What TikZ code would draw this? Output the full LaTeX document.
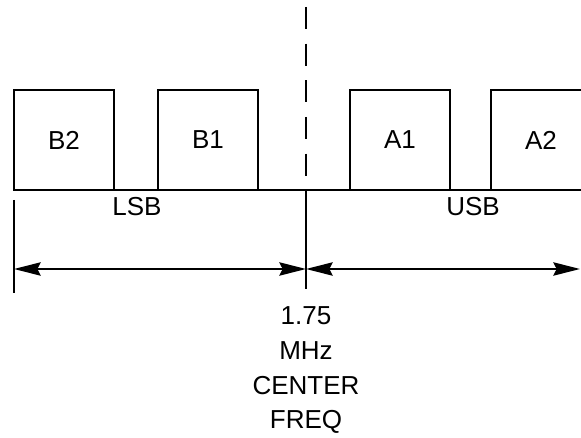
\documentclass[tikz,border=0pt]{standalone}
\usepackage{fontspec}
\setmainfont{Liberation Sans}
\usetikzlibrary{arrows.meta}

\tikzset{every picture/.style={line width=1.5pt}}
\tikzset{
  band/.style={draw, minimum width=75pt, minimum height=75pt, inner sep=0pt, font=\fontsize{19.5}{26}\selectfont},
  lbl/.style={inner sep=0pt, font=\fontsize{19.5}{26}\selectfont},
  dim/.style={{Stealth[length=20pt,width=10pt,inset=2.5pt]}-{Stealth[length=20pt,width=10pt,inset=2.5pt]}, line width=1.5pt}
}

\begin{document}
\begin{tikzpicture}[x=0.75pt,y=0.75pt,yscale=-1,xscale=1]
\clip (0,0) rectangle (581,438);

%Shape: Rectangle [sidebands]
\node [band] (b2) at (64,140) {B2};
\node [band] (b1) at (208,140) {B1};
\node [band] (a1) at (400,140) {A1};
\node [band] (a2) at (541,140) {A2};

%Straight Lines [base]
\coordinate (base l) at (14,190);
\coordinate (base r) at (581,190);
\draw (base l) -- (base r);

%Straight Lines [centre]
\coordinate (ctr top) at (306,7);
\coordinate (ctr base) at (306,190);
\coordinate (ctr bot) at (306,289);
\draw [dash pattern=on 16.5pt off 11pt] (ctr top) -- (ctr base);
\draw (ctr base) -- (ctr bot);

%Straight Lines [left end]
\coordinate (ext top) at (14,200);
\coordinate (ext bot) at (14,293);
\draw (ext top) -- (ext bot);

%Straight Lines [arrows]
\coordinate (lsb l) at (14,269);
\coordinate (mid) at (306,269);
\coordinate (usb r) at (580,269);
\draw [dim] (lsb l) -- (mid);
\draw [dim] (mid) -- (usb r);

% Text Node
\node [lbl] (lsb) at (137,207) {LSB};
% Text Node
\node [lbl] (usb) at (473,207) {USB};
% Text Node
\node [lbl, align=center, anchor=north] (freq) at (306,306) {1.75\\MHz\\CENTER\\FREQ};

\end{tikzpicture}
\end{document}
